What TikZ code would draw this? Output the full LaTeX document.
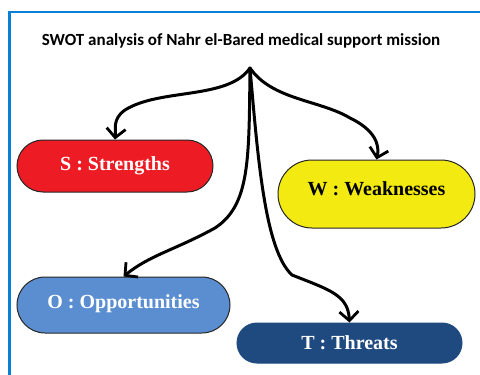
\documentclass[tikz,border=0pt]{standalone}
\usepackage{fontspec}
\setmainfont{Liberation Serif}
\newfontfamily\titlefont{Carlito}
\usetikzlibrary{shapes.misc, arrows.meta, positioning}

\definecolor{framecol}{HTML}{0A7FD6}
\definecolor{scol}{HTML}{ED1C24}
\definecolor{wcol}{HTML}{F3EA12}
\definecolor{ocol}{HTML}{5A8ED0}
\definecolor{tcol}{HTML}{1F4A80}

\begin{document}
\begin{tikzpicture}[x=1pt, y=-1pt,
    pill/.style={rounded rectangle, draw=black!85, line width=1pt,
        font=\fontsize{20}{24}\selectfont\bfseries, inner sep=0pt},
    branch/.style={line width=3pt, line cap=round,
        -{Straight Barb[length=9pt, width=19pt, line width=2.8pt]}}]
    \useasboundingbox (0,0) rectangle (480,375);
    \clip (0,0) rectangle (480,375);

    % Frame
    \draw[framecol, line width=2.5pt] (9.5,12) rectangle (520,420);

    % Title
    \node[font=\titlefont\fontsize{17}{20}\selectfont\bfseries] (title) at (241,41)
        {SWOT analysis of Nahr el-Bared medical support mission};
    \coordinate (root) at (250,68);

    % SWOT boxes
    \node[pill, fill=scol, text=white, minimum width=196pt, minimum height=52pt]
        (S) at (115,166) {S : Strengths};
    \node[pill, fill=wcol, text=black, minimum width=197pt, minimum height=68pt,
        text depth=10pt] (W) at (376.5,194) {W : Weaknesses};
    \node[pill, fill=ocol, text=white, minimum width=213pt, minimum height=56pt,
        text depth=6pt] (O) at (123.5,305) {O : Opportunities};
    \node[pill, fill=tcol, draw=tcol, text=white, minimum width=225pt, minimum height=40pt]
        (T) at (349.5,343) {T : Threats};

    % Branches
    \draw[branch] (root) .. controls (228,100) and (160,88) .. (125,110)
        .. controls (112,119) and (116,130) .. (S.north);
    \draw[branch] (root) .. controls (272,100) and (320,100) .. (350,118)
        .. controls (375,130) and (380,145) .. (W.north);
    \draw[branch] (root) .. controls (249,160) and (250,205) .. (215,228)
        .. controls (175,250) and (150,255) .. (O.north);
    \draw[branch] (root) .. controls (258,160) and (265,250) .. (292,275)
        .. controls (330,290) and (348,295) .. (T.north);
\end{tikzpicture}
\end{document}
